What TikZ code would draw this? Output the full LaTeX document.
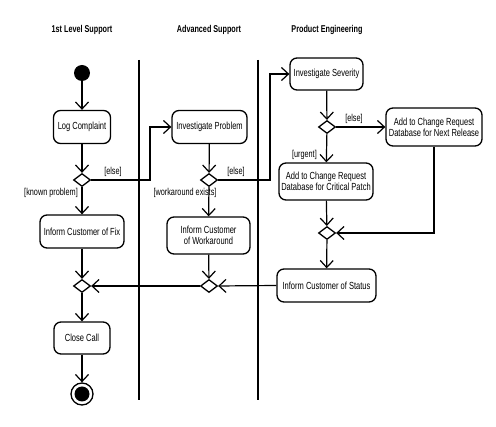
\documentclass[tikz,border=0pt]{standalone}
\usepackage{fontspec}
\setmainfont{Liberation Sans}[FakeStretch=0.73]
\usetikzlibrary{arrows.meta,shapes.geometric}
\tikzset{
  act/.style={draw, line width=1.3pt, rounded corners=7pt, align=center, font=\fontsize{10.3}{11}\selectfont, inner sep=1pt},
  dec/.style={draw, diamond, line width=1.3pt, minimum width=17pt, minimum height=13pt, inner sep=0pt, fill=white},
  flow/.style={line width=1.2pt, -{Straight Barb[length=7pt,width=13pt,line width=1.2pt]}},
  lbl/.style={font=\fontsize{10}{11}\selectfont, inner sep=1pt},
  lane/.style={line width=2pt},
  ttl/.style={font=\bfseries\fontsize{9.9}{11}\selectfont}
}
\begin{document}
\begin{tikzpicture}[x=1pt,y=-1pt]
\useasboundingbox (0,0) rectangle (496,427);
% titles
\node[ttl] (t1) at (82,30) {1st Level Support};
\node[ttl] (t2) at (209,30) {Advanced Support};
\node[ttl] (t3) at (327,30) {Product Engineering};
% lanes
\coordinate (l1a) at (139,60); \coordinate (l1b) at (139,400);
\coordinate (l2a) at (258,60); \coordinate (l2b) at (258,400);
\draw[lane] (l1a) -- (l1b);
\draw[lane] (l2a) -- (l2b);
% nodes
\node[circle, fill, minimum size=16pt, inner sep=0pt] (start) at (82,73) {};
\node[act, minimum width=57pt, minimum height=33pt] (log) at (82,127) {Log Complaint};
\node[dec] (d1) at (82,180) {};
\node[act, minimum width=84pt, minimum height=33pt] (fix) at (82,231.5) {Inform Customer of Fix};
\node[dec] (d6) at (82,286) {};
\node[act, minimum width=56pt, minimum height=32pt] (close) at (82,338) {Close Call};
\node[circle, draw, line width=1.3pt, minimum size=22pt, inner sep=0pt] (end) at (82,394) {};
\fill (end.center) circle (7.5pt);

\node[act, minimum width=75pt, minimum height=33pt] (ip) at (209.5,127) {Investigate Problem};
\node[dec] (d2) at (209,180) {};
\node[act, minimum width=83pt, minimum height=37pt] (wa) at (208.5,235.5) {Inform Customer\\of Workaround};
\node[dec] (d5) at (209,286) {};

\node[act, minimum width=73pt, minimum height=32pt] (is) at (326.5,74) {Investigate Severity};
\node[dec] (d3) at (327,127) {};
\node[act, minimum width=96pt, minimum height=38pt] (nr) at (434,127) {Add to Change Request\\Database for Next Release};
\node[act, minimum width=94pt, minimum height=37pt] (cp) at (326,181.5) {Add to Change Request\\Database for Critical Patch};
\node[dec] (d4) at (327,233) {};
\node[act, minimum width=99pt, minimum height=33pt] (st) at (326.5,285.5) {Inform Customer of Status};

\coordinate (c1) at (150,180);
\coordinate (c2) at (270,180);

% connectors
\draw[flow] (start) -- (log);
\draw[flow] (log) -- (d1);
\draw[flow] (d1) -- (fix);
\draw[flow] (fix) -- (d6);
\draw[flow] (d6) -- (close);
\draw[flow] (close) -- (end);
\draw[flow] (d1.east) -- (c1) |- (ip.west);
\draw[flow] (ip) -- (d2);
\draw[flow] (d2) -- (wa);
\draw[flow] (wa) -- (d5);
\draw[flow] (d2.east) -- (c2) |- (is.west);
\draw[flow] (is) -- (d3);
\draw[flow] (d3) -- (nr);
\draw[flow] (d3) -- (cp);
\draw[flow] (cp) -- (d4);
\draw[flow] (nr.south) |- (d4.east);
\draw[flow] (d4) -- (st);
\draw[flow] (st.west) -- (d5.east);
\draw[flow] (d5.west) -- (d6.east);
% labels
\node[lbl, anchor=south] (e1) at (113,178) {[else]};
\node[lbl, anchor=east] (kp) at (79,193) {[known problem]};
\node[lbl, anchor=south] (e2) at (236,178) {[else]};
\node[lbl] (we) at (185,193) {[workaround exists]};
\node[lbl, anchor=south] (e3) at (354,125) {[else]};
\node[lbl, anchor=east] (ur) at (318,155) {[urgent]};
\end{tikzpicture}
\end{document}
